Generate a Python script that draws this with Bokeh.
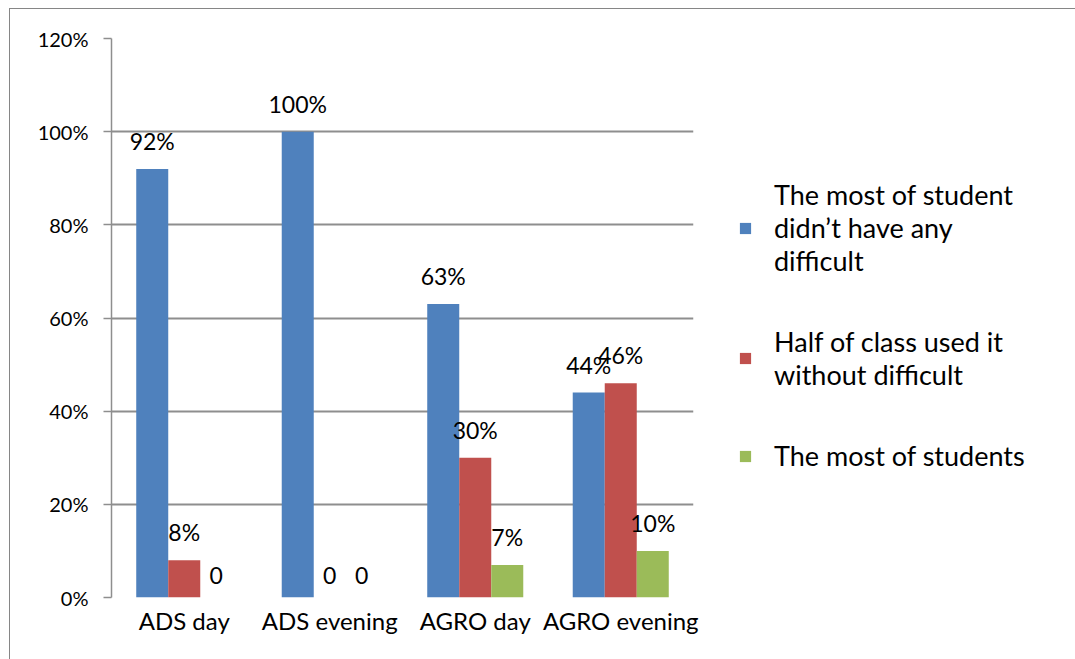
from bokeh.plotting import figure
from bokeh.models import (ColumnDataSource, FactorRange, Range1d, Legend, LegendItem,
                          PrintfTickFormatter, FixedTicker)
from bokeh.transform import dodge
from bokeh.core.properties import value
from bokeh.embed import file_html
from bokeh.resources import INLINE

categories = ["ADS day", "ADS evening", "AGRO day", "AGRO evening"]
no_difficulty = [92, 100, 63, 44]
half_class = [8, 0, 30, 46]
most_students = [0, 0, 7, 10]
series_names = ["The most of student\ndidn\u2019t have any\ndifficult",
                "Half of class used it\nwithout difficult",
                "The most of students"]
series_colors = ["#4F81BD", "#C0504D", "#9BBB59"]
y_ticks = [0, 20, 40, 60, 80, 100, 120]


def lbl(vals):
    return [f"{v}%" if v > 0 else "0" for v in vals]


src = ColumnDataSource(dict(
    cat=categories,
    s1=no_difficulty, s2=half_class, s3=most_students,
    l1=lbl(no_difficulty), l2=lbl(half_class), l3=lbl(most_students),
))

FONT = "Lato"

p = figure(frame_width=582, frame_height=559,
           x_range=FactorRange(*categories, range_padding=0),
           y_range=Range1d(0, 120), output_backend="svg", toolbar_location=None,
           min_border_left=101, min_border_right=0, min_border_top=29, min_border_bottom=62)
p.styles = {"margin-left": "9px", "margin-top": "8px",
            "border-top": "1px solid #868686", "border-left": "1px solid #868686"}
p.outline_line_color = None
p.background_fill_color = "white"
p.border_fill_color = "white"

bw = 0.22
offsets = [-bw, 0.0, bw]
renderers = []
for i, (off, col) in enumerate(zip(offsets, series_colors), start=1):
    r = p.vbar(x=dodge("cat", off, range=p.x_range), top=f"s{i}", width=bw, source=src,
               fill_color=col, line_color=None)
    renderers.append(r)
    p.text(x=dodge("cat", off, range=p.x_range), y=f"s{i}", text=f"l{i}", source=src,
           text_align="center", text_baseline="bottom", y_offset=-14,
           text_font=value(FONT), text_font_size="23px", text_color="black")

# axes
p.xgrid.grid_line_color = None
p.ygrid.grid_line_color = "#8E8E8E"
p.ygrid.grid_line_width = 2
p.yaxis.ticker = FixedTicker(ticks=y_ticks)
p.yaxis.formatter = PrintfTickFormatter(format="%d%%")
p.yaxis.axis_line_color = "#8E8E8E"
p.yaxis.axis_line_width = 1.5
p.yaxis.major_tick_line_color = "#8E8E8E"
p.yaxis.major_tick_line_width = 1.5
p.yaxis.major_tick_out = 8
p.yaxis.major_tick_in = 0
p.yaxis.minor_tick_line_color = None
p.yaxis.major_label_standoff = 15
p.yaxis.major_label_text_font = FONT
p.yaxis.major_label_text_font_size = "20px"
p.yaxis.major_label_text_color = "black"

p.xaxis.axis_line_color = None
p.xaxis.major_tick_line_color = None
p.xaxis.minor_tick_line_color = None
p.xaxis.major_label_standoff = 2
p.xaxis.major_label_text_font = FONT
p.xaxis.major_label_text_font_size = "24px"
p.xaxis.major_label_text_color = "black"

legend = Legend(items=[LegendItem(label=n, renderers=[r]) for n, r in zip(series_names, renderers)],
                location=(45, 125), padding=0, margin=0, spacing=48,
                glyph_width=14, glyph_height=14, label_standoff=22,
                label_text_font=FONT, label_text_font_size="27px",
                label_text_color="black",
                border_line_color=None, background_fill_alpha=0)
p.add_layout(legend, "right")

open("out.html", "w").write(file_html(p, INLINE))
